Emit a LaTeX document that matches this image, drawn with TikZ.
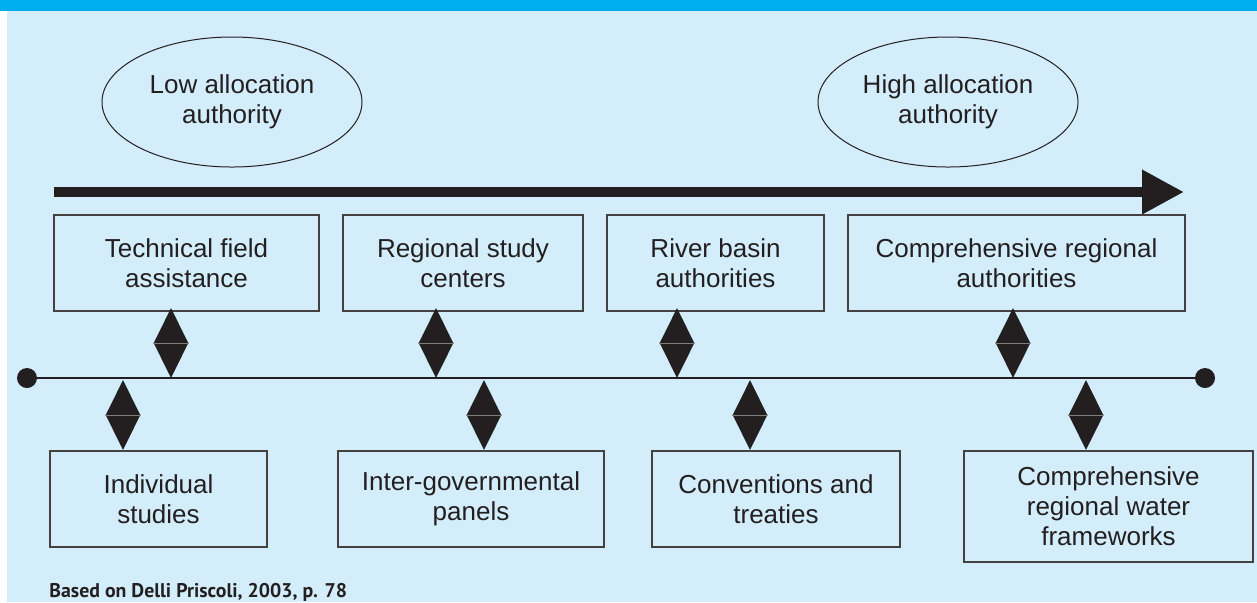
\documentclass[tikz,border=0pt]{standalone}
\usepackage{fontspec}
\setmainfont{Liberation Sans}
\newfontfamily\notefont{PT Sans}
\usetikzlibrary{arrows.meta,shapes.geometric,positioning}
\definecolor{barblue}{HTML}{00AEEF}
\definecolor{paleblue}{HTML}{D3EEFA}
\definecolor{ink}{HTML}{231F20}

\begin{document}
\begin{tikzpicture}[x=0.5pt,y=-0.5pt,
  box/.style={draw=ink!85,line width=0.6pt,rectangle,minimum height=48pt,inner sep=0pt,align=center,text=ink,font=\fontsize{13}{15}\selectfont},
  oval/.style={draw=ink,line width=0.5pt,ellipse,minimum width=130pt,minimum height=65pt,inner sep=0pt,align=center,text=ink,font=\fontsize{13}{15}\selectfont},
  diam/.style={diamond,fill=ink,minimum width=17.5pt,minimum height=35pt,inner sep=0pt},
  dot/.style={circle,fill=ink,minimum size=10pt,inner sep=0pt}]
  % background and top band
  \useasboundingbox (0,0) rectangle (1257,602);
  \fill[white] (0,0) rectangle (1257,602);
  \fill[paleblue] (7,10) rectangle (1257,602);
  \fill[barblue] (0,0) rectangle (1257,10.5);

  % the two ends of the scale
  \node[oval] (low) at (232,102) {Low allocation\\authority};
  \node[oval] (high) at (948,102) {High allocation\\authority};
  \coordinate (gostart) at (54,192);
  \coordinate (goend) at (1184,192);
  \draw[ink,line width=5pt,-{Triangle[length=21pt,width=21pt]}] (gostart) -- (goend);

  % upper row
  \node[box,minimum width=132.5pt] (tech) at (186.5,263) {Technical field\\assistance};
  \node[box,minimum width=120pt] (study) at (463,263) {Regional study\\centers};
  \node[box,minimum width=108.5pt] (basin) at (715.5,263) {River basin\\authorities};
  \node[box,minimum width=168.5pt] (compauth) at (1016.5,263) {Comprehensive regional\\authorities};

  % time line
  \node[dot] (lend) at (27,378) {};
  \node[dot] (rend) at (1205,378) {};
  \draw[ink,line width=0.6pt] (lend) -- (rend);

  \node[diam] (dtech) at (171,343) {};
  \node[diam] (dstudy) at (436,343) {};
  \node[diam] (dbasin) at (677,343) {};
  \node[diam] (dcompauth) at (1013,343) {};

  \node[diam] (dindiv) at (123,415) {};
  \node[diam] (dpanel) at (484,415) {};
  \node[diam] (dconv) at (750,415) {};
  \node[diam] (dframe) at (1086,415) {};
  \foreach \d in {dtech,dstudy,dbasin,dcompauth,dindiv,dpanel,dconv,dframe}
    \draw[gray,line width=0.3pt] (\d.west) -- (\d.east);

  % lower row
  \node[box,minimum width=108.5pt] (indiv) at (158.5,499) {Individual\\studies};
  \node[box,minimum width=133pt] (panel) at (471,499) {Inter-governmental\\panels};
  \node[box,minimum width=124pt] (conv) at (776,499) {Conventions and\\treaties};
  \node[box,minimum width=144.5pt,minimum height=55.5pt] (frame) at (1108.5,506.5) {Comprehensive\\regional water\\frameworks};

  \node[anchor=base west,inner sep=0pt,text=ink,font=\notefont\bfseries\fontsize{9.9}{11}\selectfont] (source) at (49,597) {Based on Delli Priscoli, 2003, p. 78};
\end{tikzpicture}
\end{document}
